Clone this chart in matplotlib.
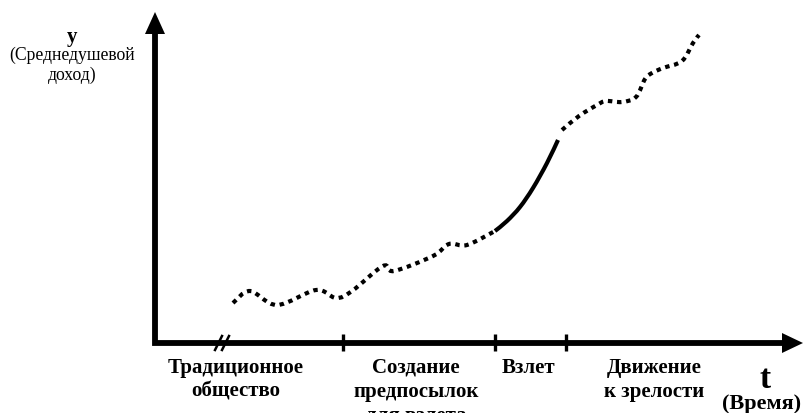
import matplotlib
matplotlib.use("Agg")
import matplotlib.pyplot as plt
from matplotlib.path import Path
from matplotlib.patches import PathPatch, Polygon

# ---- data (t = time units, y = income units) ----
stage_labels = ["Традиционное\nобщество", "Создание\nпредпосылок\nдля взлета",
                "Взлет", "Движение\nк зрелости"]
stage_label_t = [81, 261, 373, 499]
stage_ticks = [188, 340, 411]

pre_t = [78, 95, 122, 161, 181, 197, 228, 239, 278, 294, 312, 340]
pre_y = [40, 52, 38, 53, 45, 52, 77, 72, 87, 99, 98, 112]

takeoff_t = [340, 352, 365, 378, 392, 403]
takeoff_y = [112, 122, 136, 155, 180, 203]

mature_t = [407, 424, 442, 451, 467, 481, 490, 497, 508, 527, 538, 544]
mature_y = [213, 227, 238, 242, 241, 246, 264, 270, 275, 282, 300, 308]

y_title = "y"
y_subtitle = "(Среднедушевой\nдоход)"
x_title = "t"
x_subtitle = "(Время)"

plt.rcParams["lines.scale_dashes"] = False
SERIF = ["Liberation Serif", "DejaVu Serif"]

fig = plt.figure(figsize=(8.04, 4.14), dpi=100)
ax = fig.add_axes([0, 0, 1, 1])
ax.set_xlim(-155, 649)
ax.set_ylim(-70, 344)
ax.axis("off")


def smooth_path(xs, ys):
    pts = list(zip(xs, ys))
    verts = [pts[0]]
    codes = [Path.MOVETO]
    n = len(pts)
    for i in range(n - 1):
        p0 = pts[i - 1] if i > 0 else pts[i]
        p1 = pts[i]
        p2 = pts[i + 1]
        p3 = pts[i + 2] if i + 2 < n else pts[i + 1]
        c1 = (p1[0] + (p2[0] - p0[0]) / 6, p1[1] + (p2[1] - p0[1]) / 6)
        c2 = (p2[0] - (p3[0] - p1[0]) / 6, p2[1] - (p3[1] - p1[1]) / 6)
        verts += [c1, c2, p2]
        codes += [Path.CURVE4] * 3
    return Path(verts, codes)


dotted = (0, (3.2, 3.4))
for xs, ys, ls in [(pre_t, pre_y, dotted), (takeoff_t, takeoff_y, "-"),
                   (mature_t, mature_y, dotted)]:
    ax.add_patch(PathPatch(smooth_path(xs, ys), fill=False, lw=3.0,
                           linestyle=ls, edgecolor="black", capstyle="butt"))

# axes with arrows
ax.plot([0, 0, 629], [311, 0, 0], color="black", lw=4.2,
        solid_joinstyle="miter", solid_capstyle="butt")
ax.add_patch(Polygon([(-10, 309), (10, 309), (0, 331)], closed=True,
                     color="black", lw=0))
ax.add_patch(Polygon([(627, 10), (627, -10), (648, 0)], closed=True,
                     color="black", lw=0))

# stage ticks
ax.vlines(stage_ticks, -8, 9, color="black", lw=2.4)

# axis break marks
for dx in (0, 7):
    ax.plot([60 + dx, 67 + dx], [-7, 7], color="black", lw=1.8)

# labels
for lab, tx in zip(stage_labels, stage_label_t):
    ax.text(tx, -14, lab, ha="center", va="top", fontsize=15,
            fontweight="bold", family=SERIF, linespacing=1.25)

ax.text(-83, 307, y_title, ha="center", va="center", fontsize=15,
        fontweight="bold", family=SERIF)
ax.text(-83, 279, y_subtitle, ha="center", va="center", fontsize=12.7,
        family=SERIF, linespacing=1.2)
ax.text(610, -36, x_title, ha="center", va="center", fontsize=24,
        fontweight="bold", family=SERIF)
ax.text(607, -60, x_subtitle, ha="center", va="center", fontsize=16,
        fontweight="bold", family=SERIF)

fig.savefig("out.png", dpi=100)
